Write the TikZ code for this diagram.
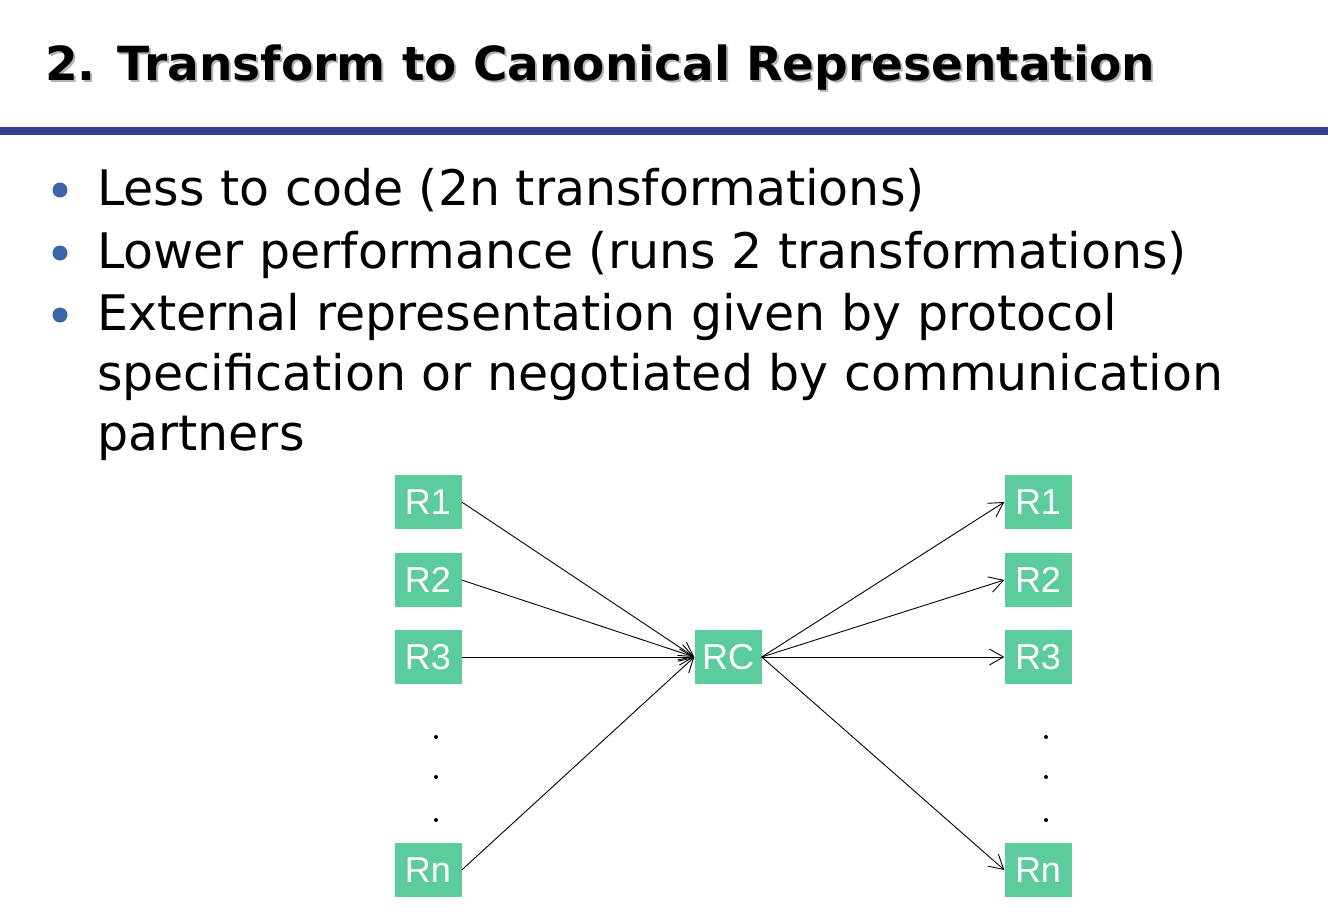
\documentclass[tikz,border=0pt]{standalone}
\usepackage{fontspec}
\setmainfont{DejaVu Sans}
\newfontfamily\arialfont{Liberation Sans}
\usetikzlibrary{arrows.meta}
\definecolor{rgreen}{RGB}{92,203,158}
\definecolor{barblue}{RGB}{52,65,142}
\definecolor{dotblue}{RGB}{58,100,165}

\begin{document}
\begin{tikzpicture}[x=1pt, y=-1pt,
    rep/.style={fill=rgreen, text=white, minimum width=67pt, minimum height=54pt,
        inner sep=0pt, font=\arialfont\fontsize{36}{36}\selectfont},
    conv/.style={-{Straight Barb[length=14pt,width=16pt]}, line width=0.9pt},
    item/.style={anchor=base west, inner sep=0pt, font=\fontsize{49}{49}\selectfont}]
  \useasboundingbox (0,0) rectangle (1328,914);
  % title with shadow
  \node (title) [anchor=base west, inner sep=0pt, font=\bfseries\fontsize{47}{47}\selectfont] at (45,80)
    {\rlap{\kern2pt\raisebox{-2pt}{\color{black!30}2. Transform to Canonical Representation}}2. Transform to Canonical Representation};
  \fill[barblue] (0,127) rectangle (1328,135);
  % bullets
  \foreach \y/\t in {205/Less to code (2n transformations),
                     268/Lower performance (runs 2 transformations),
                     330/External representation given by protocol} {
    \fill[dotblue] (60,\y-15) circle (7.5pt);
    \node[item] at (97,\y) {\t};
  }
  \node[item] at (97,390) {specification or negotiated by communication};
  \node[item] at (97,450) {partners};
  % representations
  \node[rep] (rc) at (728,657) {RC};
  \node[rep] (l1) at (428,502) {R1};
  \node[rep] (l2) at (428,580) {R2};
  \node[rep] (l3) at (428,657) {R3};
  \node[rep] (ln) at (428,870) {Rn};
  \node[rep] (r1) at (1038,502) {R1};
  \node[rep] (r2) at (1038,580) {R2};
  \node[rep] (r3) at (1038,657) {R3};
  \node[rep] (rn) at (1038,870) {Rn};
  \foreach \y in {737,777,820} {
    \fill (436,\y) circle (2pt);
    \fill (1046,\y) circle (2pt);
  }
  \foreach \n in {l1,l2,l3,ln}
    \draw[conv] (\n.east) -- (rc.west);
  \foreach \n in {r1,r2,r3,rn}
    \draw[conv] (rc.east) -- (\n.west);
\end{tikzpicture}
\end{document}
